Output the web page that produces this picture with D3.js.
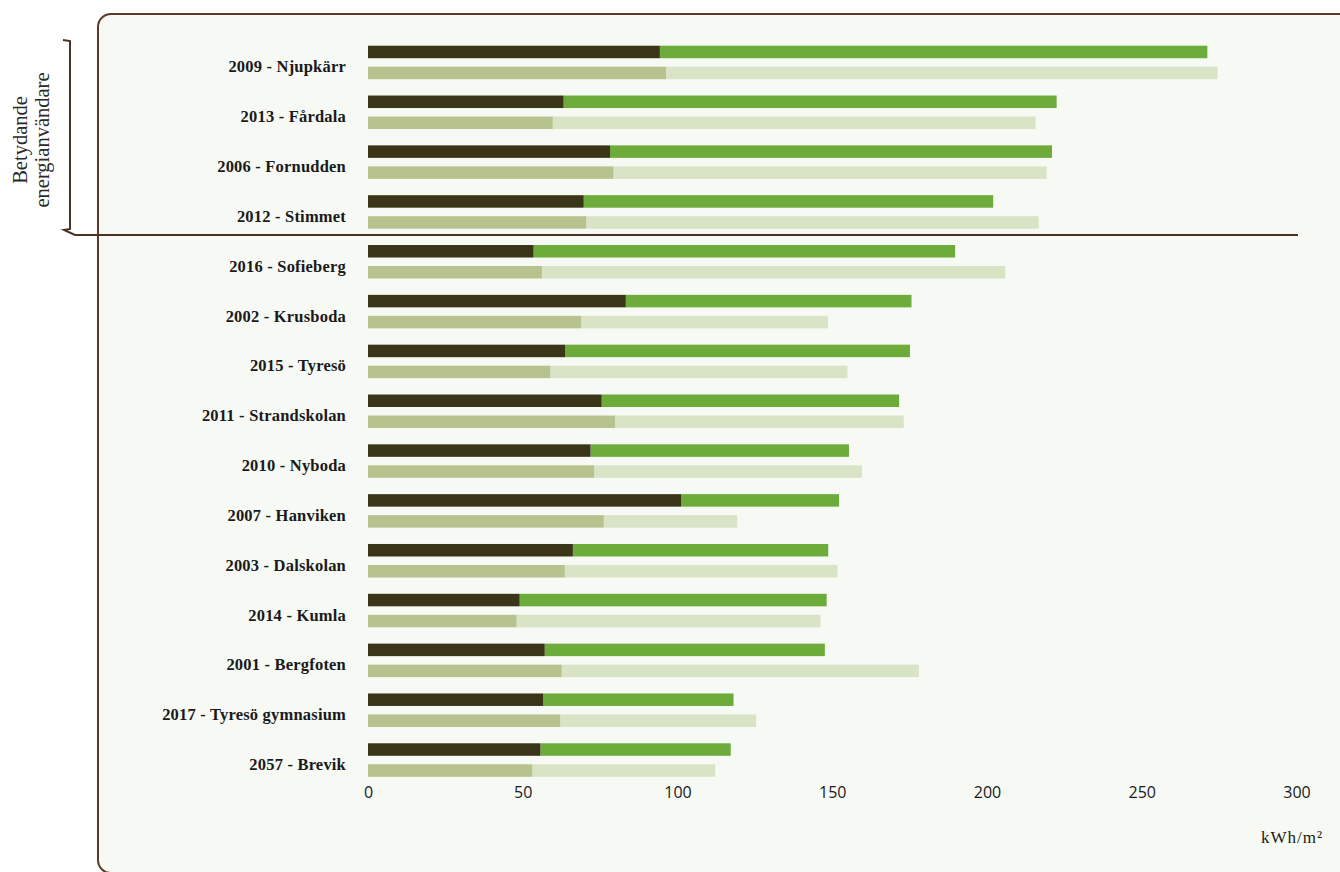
<!DOCTYPE html>
<html><head><meta charset="utf-8">
<script src="https://cdn.jsdelivr.net/npm/d3@7"></script>
<style>
html,body{margin:0;padding:0;background:#fff;}
svg{display:block;}
</style></head>
<body>
<svg id="chart" width="1340" height="872"></svg>
<script>
// ---- data (kWh/m²) ----
const categories = ["2009 - Njupkärr","2013 - Fårdala","2006 - Fornudden","2012 - Stimmet","2016 - Sofieberg","2002 - Krusboda","2015 - Tyresö","2011 - Strandskolan","2010 - Nyboda","2007 - Hanviken","2003 - Dalskolan","2014 - Kumla","2001 - Bergfoten","2017 - Tyresö gymnasium","2057 - Brevik"];
// upper bar: dark part and total
const upperDark  = [94.3, 63.2, 78.2, 69.7, 53.5, 83.3, 63.7, 75.5, 71.9, 101.2, 66.2, 49.0, 57.1, 56.6, 55.7];
const upperTotal = [271.2, 222.5, 221.0, 202.0, 189.7, 175.6, 175.1, 171.6, 155.4, 152.2, 148.7, 148.2, 147.6, 118.1, 117.2];
// lower bar: olive part and total
const lowerPart  = [96.3, 59.7, 79.3, 70.5, 56.2, 68.9, 58.9, 79.8, 73.1, 76.2, 63.6, 48.0, 62.6, 62.1, 53.1];
const lowerTotal = [274.5, 215.7, 219.3, 216.7, 205.9, 148.6, 154.9, 173.1, 159.6, 119.3, 151.7, 146.2, 178.0, 125.4, 112.2];
const xTicks = [0, 50, 100, 150, 200, 250, 300];
const unitLabel = "kWh/m²";
const bracketLines = ["Betydande", "energianvändare"];

const colors = {dark:"#3a3519", green:"#6dab3b", olive:"#b7c38e", pale:"#d9e3c6"};

const svg = d3.select("#chart");

// frame
svg.append("rect").attr("x",98).attr("y",14).attr("width",1300).attr("height",859)
  .attr("rx",13).attr("fill","#f6f9f4").attr("stroke","#5b3b27").attr("stroke-width",2);

const x = d3.scaleLinear().domain([0,300]).range([368, 1296.5]);
const y = d3.scaleBand().domain(categories).range([37.6, 785]).padding(0);
const bh = 12.5;
const cy = d => y(d) + y.bandwidth()/2;

const rows = categories.map((c,i)=>({c, ud:upperDark[i], ut:upperTotal[i], lp:lowerPart[i], lt:lowerTotal[i]}));

const g = svg.append("g");
// upper bars
g.selectAll(".ug").data(rows).join("rect").attr("x",d=>x(d.ud)).attr("y",d=>cy(d.c)-16.8)
  .attr("width",d=>x(d.ut)-x(d.ud)).attr("height",bh).attr("fill",colors.green);
g.selectAll(".ud").data(rows).join("rect").attr("x",x(0)).attr("y",d=>cy(d.c)-16.8)
  .attr("width",d=>x(d.ud)-x(0)).attr("height",bh).attr("fill",colors.dark);
// lower bars
g.selectAll(".lp2").data(rows).join("rect").attr("x",d=>x(d.lp)).attr("y",d=>cy(d.c)+4.2)
  .attr("width",d=>x(d.lt)-x(d.lp)).attr("height",bh).attr("fill",colors.pale);
g.selectAll(".lp1").data(rows).join("rect").attr("x",x(0)).attr("y",d=>cy(d.c)+4.2)
  .attr("width",d=>x(d.lp)-x(0)).attr("height",bh).attr("fill",colors.olive);

// category axis
const ya = svg.append("g").attr("transform",`translate(${x(0)},0)`)
  .call(d3.axisLeft(y).tickSize(0).tickPadding(22));
ya.select(".domain").remove();
ya.selectAll("text").attr("dy","0.6em")
  .attr("font-family","'Liberation Serif', 'DejaVu Serif', serif").attr("font-weight","bold")
  .attr("font-size","16.5px").attr("letter-spacing","0.2px").attr("fill","#1a1a1a");

// x axis
const xa = svg.append("g").attr("transform","translate(0,784)")
  .call(d3.axisBottom(x).tickValues(xTicks).tickSize(0).tickPadding(3).tickFormat(d3.format("d")));
xa.select(".domain").remove();
xa.selectAll("text").attr("font-family","'Open Sans', 'Noto Sans', sans-serif")
  .attr("font-size","16px").attr("fill","#1a1a1a");

// unit label
svg.append("text").attr("x",1292).attr("y",843).attr("text-anchor","middle")
  .attr("font-family","'Liberation Serif', serif").attr("font-size","17px")
  .attr("letter-spacing","1px").attr("fill","#1a1a1a")
  .text(unitLabel);

// divider + bracket
svg.append("path").attr("d","M63,40 L70,41 L70,229 L64,230 L75,235 L1298,235")
  .attr("fill","none").attr("stroke","#4a3326").attr("stroke-width",2);

// bracket label
const bt = svg.append("text").attr("transform","translate(27,140) rotate(-90)")
  .attr("text-anchor","middle").attr("font-family","'Liberation Serif', serif")
  .attr("font-size","20.5px").attr("fill","#2a2a2a");
bracketLines.forEach((t,i)=>bt.append("tspan").attr("x",0).attr("dy", i===0?0:21.5).text(t));
</script>
</body></html>
